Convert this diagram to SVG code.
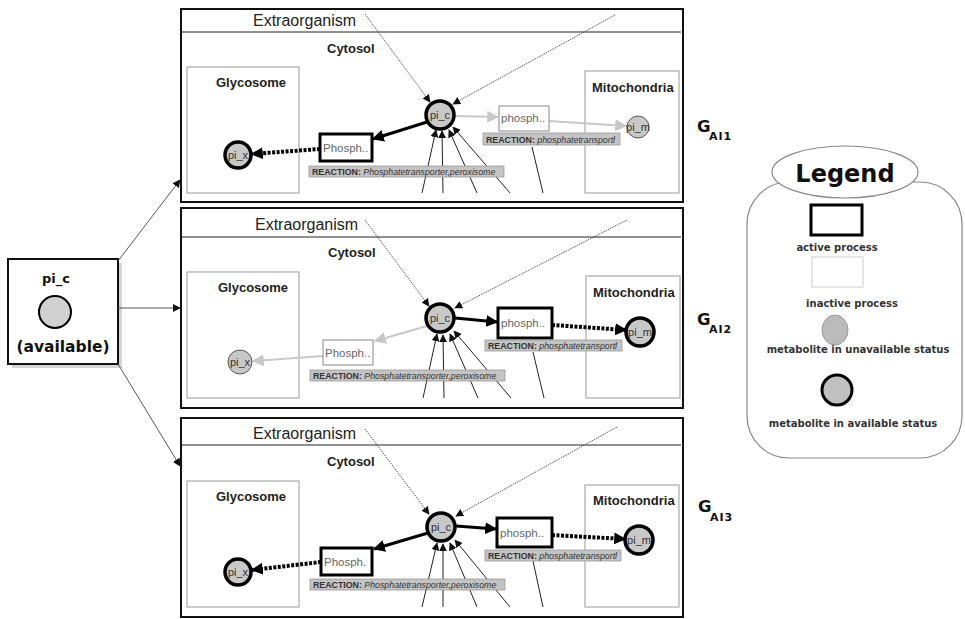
<svg xmlns="http://www.w3.org/2000/svg" width="965" height="619" viewBox="0 0 965 619">
<style>
.frame{fill:#fff;stroke:#111;stroke-width:2}
.sep{stroke:#222;stroke-width:1}
.comp{fill:none;stroke:#aaa;stroke-width:1.2}
.ttl{font-family:"Liberation Sans",Arial,sans-serif;font-size:16px;fill:#222}
.lab{font-family:"Liberation Sans",Arial,sans-serif;font-size:13px;font-weight:bold;fill:#222}
.met-a{fill:#c8c8c8;stroke:#000;stroke-width:3.5}
.met-i{fill:#c8c8c8;stroke:#555;stroke-width:1}
.mt{font-family:"Liberation Sans",Arial,sans-serif;font-size:11px;fill:#333;text-anchor:middle}
.pr-a{fill:#fff;stroke:#000;stroke-width:3}
.pr-i{fill:#fff;stroke:#888;stroke-width:1}
.pt{font-family:"Liberation Sans",Arial,sans-serif;font-size:11.5px;fill:#666}
.rx{fill:#c4c4c4;stroke:#999;stroke-width:0.8}
.rt{font-family:"Liberation Sans",Arial,sans-serif;font-size:8.8px;fill:#333}
.rt .b{font-weight:bold}
.rt .i{font-style:italic}
.c-a{stroke:#000;stroke-width:3;fill:none}
.c-d{stroke:#000;stroke-width:4;stroke-dasharray:3 1.5;fill:none}
.c-i{stroke:#c8c8c8;stroke-width:2;fill:none}
.c-dot{stroke:#444;stroke-width:0.9;stroke-dasharray:1.5 1;fill:none}
.c-t{stroke:#222;stroke-width:1;fill:none}
.c-l{stroke:#444;stroke-width:0.9;fill:none}
.lg{font-family:"DejaVu Sans",Verdana,sans-serif;font-weight:bold;fill:#333;text-anchor:middle;font-size:10px}
.big{font-family:"DejaVu Sans",Verdana,sans-serif;font-weight:bold;fill:#111}
</style>
<defs>
<marker id="ah-b" viewBox="0 0 10 10" refX="9" refY="5" markerWidth="12" markerHeight="12" markerUnits="userSpaceOnUse" orient="auto"><path d="M0,0 L10,5 L0,10 z" fill="#000"/></marker>
<marker id="ah-g" viewBox="0 0 10 10" refX="9" refY="5" markerWidth="12" markerHeight="12" markerUnits="userSpaceOnUse" orient="auto"><path d="M0,0 L10,5 L0,10 z" fill="#c8c8c8"/></marker>
<marker id="ah-s" viewBox="0 0 10 10" refX="9" refY="5" markerWidth="8" markerHeight="8" markerUnits="userSpaceOnUse" orient="auto"><path d="M0,0 L10,5 L0,10 z" fill="#111"/></marker>
</defs>
<rect width="965" height="619" fill="#fff"/>

<!-- Left source node -->
<g id="source-pi_c">
<rect x="12" y="263" width="110" height="105" fill="#d4d4d4"/>
<rect x="8" y="259" width="110" height="105" class="frame"/>
<text x="56" y="283" class="big" font-size="13" text-anchor="middle">pi_c</text>
<circle cx="55" cy="312" r="16" fill="#d0d0d0" stroke="#000" stroke-width="2"/>
<text x="63" y="352" class="big" font-size="15.5" text-anchor="middle">(available)</text>
</g>

<!-- Panel 1 -->
<g id="panel1">
<rect x="181" y="9" width="502" height="193" class="frame"/>
<text x="253" y="26" class="ttl">Extraorganism</text>
<line x1="181" y1="32" x2="681" y2="32" class="sep"/>
<text x="327" y="53" class="lab">Cytosol</text>
<g id="p1-glycosome"><rect x="187" y="67" width="112" height="126" class="comp"/><text x="216" y="87" class="lab">Glycosome</text></g>
<g id="p1-mito"><rect x="585" y="71" width="94" height="122" class="comp" stroke="#999"/><text x="592" y="92" class="lab">Mitochondria</text></g>
<g id="p1-connectors">
<line x1="365" y1="14" x2="430" y2="102" class="c-dot" marker-end="url(#ah-s)"/>
<line x1="615" y1="15" x2="453" y2="104" class="c-dot" marker-end="url(#ah-s)"/>
<line x1="422" y1="193" x2="436" y2="130" class="c-t" marker-end="url(#ah-s)"/>
<line x1="443" y1="193" x2="442" y2="131" class="c-t" marker-end="url(#ah-s)"/>
<line x1="477" y1="193" x2="449" y2="130" class="c-t" marker-end="url(#ah-s)"/>
<line x1="510" y1="193" x2="453" y2="127" class="c-t" marker-end="url(#ah-s)"/>
<line x1="543" y1="193" x2="532" y2="147" class="c-t"/>
<line x1="427" y1="122" x2="373" y2="139" class="c-a" marker-end="url(#ah-b)"/>
<line x1="320" y1="149" x2="252" y2="154" class="c-d" marker-end="url(#ah-b)"/>
<line x1="454" y1="116" x2="498" y2="117" class="c-i" marker-end="url(#ah-g)"/>
<line x1="549" y1="121" x2="626" y2="126" class="c-i" marker-end="url(#ah-g)"/>
</g>
<g id="p1-pi_c"><circle cx="440" cy="115" r="14" class="met-a"/><text x="440" y="119" class="mt">pi_c</text></g>
<g id="p1-Phosph"><rect x="320" y="134" width="52" height="27" class="pr-a"/><text x="323" y="152" class="pt">Phosph..</text>
<rect x="309" y="166" width="195" height="11" class="rx"/><text x="312" y="175" class="rt"><tspan class="b">REACTION: </tspan><tspan class="i">Phosphatetransporter,peroxisome</tspan></text></g>
<g id="p1-phosph"><rect x="499" y="106" width="50" height="25" class="pr-i"/><text x="501" y="122" class="pt">phosph..</text>
<rect x="483" y="133" width="137" height="12" class="rx"/><text x="486" y="142.5" class="rt"><tspan class="b">REACTION: </tspan><tspan class="i">phosphatetransportl</tspan></text></g>
<g id="p1-pi_m"><circle cx="638" cy="127" r="11" class="met-i"/><text x="638" y="131" class="mt">pi_m</text></g>
<g id="p1-pi_x"><circle cx="238" cy="155" r="13" class="met-a"/><text x="238" y="159" class="mt">pi_x</text></g>
</g>

<!-- Panel 2 -->
<g id="panel2">
<rect x="181" y="208" width="502" height="200" class="frame"/>
<text x="255" y="230" class="ttl">Extraorganism</text>
<line x1="181" y1="237" x2="681" y2="237" class="sep"/>
<text x="328" y="257" class="lab">Cytosol</text>
<g id="p2-glycosome"><rect x="187" y="272" width="112" height="126" class="comp"/><text x="218" y="292" class="lab">Glycosome</text></g>
<g id="p2-mito"><rect x="586" y="276" width="94" height="122" class="comp" stroke="#999"/><text x="593" y="297" class="lab">Mitochondria</text></g>
<g id="p2-connectors">
<line x1="365" y1="220" x2="429" y2="306" class="c-dot" marker-end="url(#ah-s)"/>
<line x1="627" y1="220" x2="455" y2="308" class="c-dot" marker-end="url(#ah-s)"/>
<line x1="423" y1="398" x2="437" y2="334" class="c-t" marker-end="url(#ah-s)"/>
<line x1="444" y1="398" x2="443" y2="335" class="c-t" marker-end="url(#ah-s)"/>
<line x1="478" y1="398" x2="450" y2="334" class="c-t" marker-end="url(#ah-s)"/>
<line x1="511" y1="398" x2="454" y2="331" class="c-t" marker-end="url(#ah-s)"/>
<line x1="544" y1="398" x2="533" y2="352" class="c-t"/>
<line x1="455" y1="318" x2="497" y2="322" class="c-a" marker-end="url(#ah-b)"/>
<line x1="552" y1="325" x2="626" y2="330" class="c-d" marker-end="url(#ah-b)"/>
<line x1="427" y1="326" x2="375" y2="341" class="c-i" marker-end="url(#ah-g)"/>
<line x1="323" y1="356" x2="253" y2="361" class="c-i" marker-end="url(#ah-g)"/>
</g>
<g id="p2-pi_c"><circle cx="440" cy="318" r="14" class="met-a"/><text x="440" y="322" class="mt">pi_c</text></g>
<g id="p2-phosph"><rect x="498" y="308" width="54" height="30" class="pr-a"/><text x="501" y="327" class="pt">phosph..</text>
<rect x="485" y="340" width="137" height="11" class="rx"/><text x="488" y="349" class="rt"><tspan class="b">REACTION: </tspan><tspan class="i">phosphatetransportl</tspan></text></g>
<g id="p2-pi_m"><circle cx="640" cy="332" r="14" class="met-a"/><text x="640" y="336" class="mt">pi_m</text></g>
<g id="p2-Phosph"><rect x="323" y="340" width="50" height="25" class="pr-i"/><text x="325" y="357" class="pt">Phosph..</text>
<rect x="310" y="370" width="195" height="11" class="rx"/><text x="313" y="379" class="rt"><tspan class="b">REACTION: </tspan><tspan class="i">Phosphatetransporter,peroxisome</tspan></text></g>
<g id="p2-pi_x"><circle cx="240" cy="362" r="12" class="met-i"/><text x="240" y="366" class="mt">pi_x</text></g>
</g>

<!-- Panel 3 -->
<g id="panel3">
<rect x="181" y="418" width="502" height="199" class="frame"/>
<text x="253" y="439" class="ttl">Extraorganism</text>
<line x1="181" y1="445" x2="681" y2="445" class="sep"/>
<text x="327" y="466" class="lab">Cytosol</text>
<g id="p3-glycosome"><rect x="187" y="481" width="112" height="126" class="comp"/><text x="216" y="501" class="lab">Glycosome</text></g>
<g id="p3-mito"><rect x="585" y="485" width="94" height="122" class="comp" stroke="#999"/><text x="593" y="505" class="lab">Mitochondria</text></g>
<g id="p3-connectors">
<line x1="365" y1="429" x2="429" y2="514" class="c-dot" marker-end="url(#ah-s)"/>
<line x1="617" y1="427" x2="456" y2="516" class="c-dot" marker-end="url(#ah-s)"/>
<line x1="422" y1="607" x2="437" y2="543" class="c-t" marker-end="url(#ah-s)"/>
<line x1="443" y1="607" x2="443" y2="544" class="c-t" marker-end="url(#ah-s)"/>
<line x1="477" y1="607" x2="450" y2="543" class="c-t" marker-end="url(#ah-s)"/>
<line x1="510" y1="607" x2="455" y2="540" class="c-t" marker-end="url(#ah-s)"/>
<line x1="543" y1="607" x2="533" y2="561" class="c-t"/>
<line x1="456" y1="526" x2="496" y2="529" class="c-a" marker-end="url(#ah-b)"/>
<line x1="552" y1="535" x2="625" y2="539" class="c-d" marker-end="url(#ah-b)"/>
<line x1="428" y1="533" x2="374" y2="549" class="c-a" marker-end="url(#ah-b)"/>
<line x1="321" y1="562" x2="252" y2="570" class="c-d" marker-end="url(#ah-b)"/>
</g>
<g id="p3-pi_c"><circle cx="441" cy="527" r="14" class="met-a"/><text x="441" y="531" class="mt">pi_c</text></g>
<g id="p3-phosph"><rect x="497" y="518" width="55" height="29" class="pr-a"/><text x="500" y="537" class="pt">phosph..</text>
<rect x="485" y="550" width="136" height="11" class="rx"/><text x="488" y="559" class="rt"><tspan class="b">REACTION: </tspan><tspan class="i">phosphatetransportl</tspan></text></g>
<g id="p3-pi_m"><circle cx="639" cy="540" r="14" class="met-a"/><text x="639" y="544" class="mt">pi_m</text></g>
<g id="p3-Phosph"><rect x="321" y="548" width="51" height="27" class="pr-a"/><text x="324" y="566" class="pt">Phosph.</text>
<rect x="310" y="579" width="195" height="11" class="rx"/><text x="313" y="588" class="rt"><tspan class="b">REACTION: </tspan><tspan class="i">Phosphatetransporter,peroxisome</tspan></text></g>
<g id="p3-pi_x"><circle cx="238" cy="572" r="13" class="met-a"/><text x="238" y="576" class="mt">pi_x</text></g>
</g>

<!-- Connectors from source -->
<g id="connectors">
<line x1="118" y1="261" x2="180" y2="180" class="c-l" marker-end="url(#ah-s)"/>
<line x1="118" y1="308" x2="180" y2="308" class="c-l" marker-end="url(#ah-s)"/>
<line x1="118" y1="364" x2="180" y2="466" class="c-l" marker-end="url(#ah-s)"/>
</g>

<!-- G labels -->
<g id="g-labels">
<text x="697" y="132" class="big" font-size="16.5">G</text><text x="709" y="140" class="big" font-size="11" letter-spacing="1">AI1</text>
<text x="697" y="325" class="big" font-size="16.5">G</text><text x="709" y="333" class="big" font-size="11" letter-spacing="1">AI2</text>
<text x="698" y="512" class="big" font-size="16.5">G</text><text x="710" y="521" class="big" font-size="11" letter-spacing="1">AI3</text>
</g>

<!-- Legend -->
<g id="legend">
<rect x="747" y="182" width="215" height="276" rx="42" ry="42" fill="#fff" stroke="#888" stroke-width="1.2"/>
<ellipse cx="845" cy="172" rx="73" ry="26" fill="#fff" stroke="#888" stroke-width="1.2"/>
<text x="845" y="182" class="big" font-size="24" text-anchor="middle">Legend</text>
<rect x="811" y="205" width="51" height="30" fill="#fff" stroke="#000" stroke-width="3"/>
<text x="837" y="251" class="lg">active process</text>
<rect x="812" y="257" width="51" height="30" fill="#fff" stroke="#ccc" stroke-width="1"/>
<text x="852" y="307" class="lg">inactive process</text>
<ellipse cx="835" cy="330" rx="13" ry="15" fill="#bbb" stroke="#999" stroke-width="1"/>
<text x="858" y="353" class="lg">metabolite in unavailable status</text>
<circle cx="837" cy="390" r="15" fill="#c0c0c0" stroke="#000" stroke-width="3"/>
<text x="853" y="427" class="lg">metabolite in available status</text>
</g>
</svg>
